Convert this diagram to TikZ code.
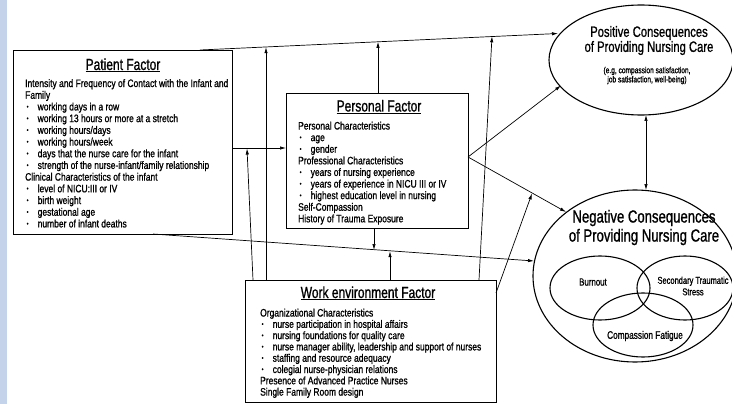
\documentclass[tikz,border=0pt]{standalone}
\usepackage{fontspec}
\setmainfont{Liberation Sans}[FakeStretch=0.75,FakeBold=1]
\newfontfamily\bodyfont{Liberation Sans}[FakeStretch=0.785,FakeBold=1]
\usetikzlibrary{arrows.meta,shapes.geometric}
\definecolor{strip}{HTML}{C5D3EA}
\newcommand\bl{\hspace*{1.5pt}\makebox[11pt][l]{\raisebox{1.6pt}{\fontsize{6.5}{6.5}\selectfont •}}}
\begin{document}
\begin{tikzpicture}[x=1pt,y=-1pt,
  box/.style={draw,line width=1.1pt,inner sep=0,anchor=north west},
  ttl/.style={font=\fontsize{16}{18}\selectfont,inner sep=0,anchor=base},
  body/.style={align=left,anchor=north west,inner sep=0},
  conn/.style={line width=0.7pt,-{Latex[length=6pt,width=3.4pt]}},
  ell/.style={draw,ellipse,line width=1.1pt,inner sep=0}]
\useasboundingbox (0,0) rectangle (732,404);
\fill[strip] (0,0) rectangle (7,404);

% boxes
\node[box,line width=1.3pt,minimum width=219pt,minimum height=184pt] (patient) at (13,50) {};
\node[box,minimum width=182pt,minimum height=135pt] (personal) at (286,93) {};
\node[box,minimum width=251pt,minimum height=122pt] (work) at (245,280) {};

\node[ttl] (ptitle) at (123,70) {\underline{Patient Factor}};
\node[ttl] (pstitle) at (379,111.5) {\underline{Personal Factor}};
\node[ttl] (wtitle) at (368,298) {\underline{Work environment Factor}};

\node[body,font=\bodyfont\fontsize{10.8}{11.7}\selectfont] (pbody) at (25,79) {Intensity and Frequency of Contact with the Infant and\\
Family\\
\bl working days in a row\\
\bl working 13 hours or more at a stretch\\
\bl working hours/days\\
\bl working hours/week\\
\bl days that the nurse care for the infant\\
\bl strength of the nurse-infant/family relationship\\
Clinical Characteristics of the infant\\
\bl level of NICU:III or IV\\
\bl birth weight\\
\bl gestational age\\
\bl number of infant deaths};

\node[body,font=\bodyfont\fontsize{10.8}{11.6}\selectfont] (psbody) at (298,121.5) {Personal Characteristics\\
\bl age\\
\bl gender\\
Professional Characteristics\\
\bl years of nursing experience\\
\bl years of experience in NICU III or IV\\
\bl highest education level in nursing\\
Self-Compassion\\
History of Trauma Exposure};

\node[body,font=\bodyfont\fontsize{10.8}{11.3}\selectfont] (wbody) at (260,308.5) {Organizational Characteristics\\
\bl nurse participation in hospital affairs\\
\bl nursing foundations for quality care\\
\bl nurse manager ability, leadership and support of nurses\\
\bl staffing and resource adequacy\\
\bl colegial nurse-physician relations\\
Presence of Advanced Practice Nurses\\
Single Family Room design};

% ellipses
\node[ell,minimum width=184pt,minimum height=110pt] (pos) at (641,60) {};
\node[font=\fontsize{15}{15}\selectfont,align=center,inner sep=0] (postxt) at (649,40.5) {Positive Consequences\\of Providing Nursing Care};
\node[font=\fontsize{8.8}{9.2}\selectfont,align=center,inner sep=0] (possub) at (647,75.5) {(e.g, compassion satisfaction,\\job satisfaction, well-being)};

\node[ell,minimum width=204pt,minimum height=172pt] (neg) at (635,276) {};
\node[font=\fontsize{17.5}{19}\selectfont,align=center,inner sep=0] (negtxt) at (644,227.5) {Negative Consequences\\of Providing Nursing Care};
\node[ell,minimum width=100pt,minimum height=64pt] (burn) at (600,288) {};
\node[ell,minimum width=96pt,minimum height=64pt] (sts) at (685,288) {};
\node[ell,minimum width=100pt,minimum height=64pt] (cf) at (643,325) {};
\node[font=\fontsize{10.5}{12}\selectfont,inner sep=0] (burntxt) at (593,282) {Burnout};
\node[font=\fontsize{10}{11.5}\selectfont,align=center,inner sep=0] (ststxt) at (693,286) {Secondary Traumatic\\Stress};
\node[font=\fontsize{11}{12}\selectfont,inner sep=0] (cftxt) at (645,336) {Compassion Fatigue};

% connector points
\coordinate (pTop) at (200,50);
\coordinate (posW) at (558,33.5);
\coordinate (pR) at (232,148);
\coordinate (psL) at (286,148);
\coordinate (pBot) at (153,234);
\coordinate (negW) at (534,261);
\coordinate (psR) at (468,157);
\coordinate (posSW) at (561,85.5);
\coordinate (negNW) at (566,212);
\coordinate (psTop) at (378,93);
\coordinate (onTopA) at (378,41.8);
\coordinate (wA) at (266,280);
\coordinate (onTopB) at (266,47.2);
\coordinate (wB) at (253,280);
\coordinate (onMid) at (247,148.5);
\coordinate (wC) at (390,280);
\coordinate (onLowA) at (390,251.2);
\coordinate (wD) at (479,280);
\coordinate (onTopC) at (492,36.3);
\coordinate (wE) at (496,293);
\coordinate (onPsNeg) at (532,193.5);
\coordinate (psBot) at (374,228);
\coordinate (onLowB) at (374,250);
\coordinate (posS) at (646,115);
\coordinate (negN) at (646,190);

\draw[conn] (pTop) -- (posW);
\draw[conn] (pR) -- (psL);
\draw[conn] (pBot) -- (negW);
\draw[conn] (psR) -- (posSW);
\draw[conn] (psR) -- (negNW);
\draw[conn] (psTop) -- (onTopA);
\draw[conn] (wA) -- (onTopB);
\draw[conn] (wB) -- (onMid);
\draw[conn] (wC) -- (onLowA);
\draw[conn] (wD) -- (onTopC);
\draw[conn] (wE) -- (onPsNeg);
\draw[conn] (psBot) -- (onLowB);
\draw[conn,{Latex[length=6pt,width=3.4pt]}-{Latex[length=6pt,width=3.4pt]}] (posS) -- (negN);
\end{tikzpicture}
\end{document}
